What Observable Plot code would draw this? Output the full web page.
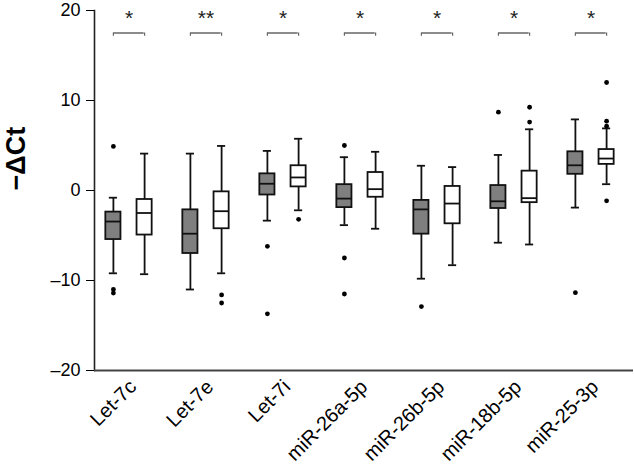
<!DOCTYPE html>
<html><head><meta charset="utf-8">
<script src="https://cdn.jsdelivr.net/npm/d3@7"></script>
<script src="https://cdn.jsdelivr.net/npm/@observablehq/plot@0.6"></script>
<style>body{margin:0;background:#fff;}</style>
</head><body><div id="chart"></div>
<script>
const categories = ["Let-7c", "Let-7e", "Let-7i", "miR-26a-5p", "miR-26b-5p", "miR-18b-5p", "miR-25-3p"];
const significance = ["*", "**", "*", "*", "*", "*", "*"];
const yTicks = [-20, -10, 0, 10, 20];

// gray (filled) group
const grayLow    = [-9.2, -11.0, -3.35, -3.85, -9.8, -5.8, -1.9];
const grayQ1     = [-5.45, -7.0, -0.5, -1.9, -4.85, -2.0, 1.8];
const grayMedian = [-3.45, -4.8, 0.75, -0.9, -2.1, -1.2, 2.8];
const grayQ3     = [-2.4, -2.15, 1.85, 0.65, -1.1, 0.55, 4.3];
const grayHigh   = [-0.8, 4.1, 4.4, 3.7, 2.75, 3.95, 7.9];
const grayOutliers = [
  ["Let-7c", 4.9], ["Let-7c", -11.0], ["Let-7c", -11.4],
  ["Let-7i", -6.2], ["Let-7i", -13.7],
  ["miR-26a-5p", 5.0], ["miR-26a-5p", -7.5], ["miR-26a-5p", -11.5],
  ["miR-26b-5p", -12.9],
  ["miR-18b-5p", 8.7],
  ["miR-25-3p", -11.35]
];

// white (open) group
const whiteLow    = [-9.3, -9.2, -2.2, -4.25, -8.3, -6.0, 0.7];
const whiteQ1     = [-4.95, -4.25, 0.4, -0.75, -3.7, -1.35, 2.9];
const whiteMedian = [-2.5, -2.3, 1.45, 0.15, -1.45, -0.85, 3.55];
const whiteQ3     = [-1.0, -0.15, 2.75, 2.0, 0.45, 2.15, 4.55];
const whiteHigh   = [4.1, 4.95, 5.75, 4.3, 2.6, 6.8, 6.9];
const whiteOutliers = [
  ["Let-7e", -11.6], ["Let-7e", -12.5],
  ["Let-7i", -3.2],
  ["miR-18b-5p", 7.6], ["miR-18b-5p", 9.25],
  ["miR-25-3p", -1.15], ["miR-25-3p", 7.15], ["miR-25-3p", 7.7], ["miR-25-3p", 12.0]
];

const bracketY = 17.5;
const bracketDrop = 17.15;

const groups = [
  {name: "gray", fill: "#7f7f7f", dx: -15.6, low: grayLow, q1: grayQ1, med: grayMedian, q3: grayQ3, high: grayHigh, out: grayOutliers},
  {name: "white", fill: "#ffffff", dx: 15.6, low: whiteLow, q1: whiteQ1, med: whiteMedian, q3: whiteQ3, high: whiteHigh, out: whiteOutliers}
];

const bw = (631.7 - 86.6) / categories.length;
const boxInset = (bw - 16) / 2;
const capInset = (bw - 9) / 2;
const bracketInset = bw / 2 - 15.6;

const marks = [];
for (const g of groups) {
  const rows = categories.map((c, i) => ({category: c, low: g.low[i], q1: g.q1[i], med: g.med[i], q3: g.q3[i], high: g.high[i]}));
  const outs = g.out.map(([c, v]) => ({category: c, value: v}));
  marks.push(
    Plot.ruleX(rows, {x: "category", y1: "low", y2: "high", dx: g.dx, stroke: "#111", strokeWidth: 1.8}),
    Plot.tickY(rows, {x: "category", y: "low", dx: g.dx, insetLeft: capInset, insetRight: capInset, stroke: "#111", strokeWidth: 1.8}),
    Plot.tickY(rows, {x: "category", y: "high", dx: g.dx, insetLeft: capInset, insetRight: capInset, stroke: "#111", strokeWidth: 1.8}),
    Plot.barY(rows, {x: "category", y1: "q1", y2: "q3", dx: g.dx, insetLeft: boxInset, insetRight: boxInset, fill: g.fill, stroke: "#111", strokeWidth: 1.8}),
    Plot.tickY(rows, {x: "category", y: "med", dx: g.dx, insetLeft: boxInset, insetRight: boxInset, stroke: "#111", strokeWidth: 1.8}),
    Plot.dot(outs, {x: "category", y: "value", dx: g.dx, r: 2.4, fill: "#000", stroke: "none"})
  );
}

const sig = categories.map((c, i) => ({category: c, label: significance[i], y: bracketY, y2: bracketDrop}));

const chart = Plot.plot({
  width: 634,
  height: 470,
  marginLeft: 94,
  marginRight: 1,
  marginTop: 10,
  marginBottom: 100,
  style: {fontFamily: "'Liberation Sans', Arial, sans-serif", fontSize: "17px", color: "#000", background: "#fff"},
  x: {domain: categories, range: [86.6, 631.7], padding: 0},
  y: {domain: [-20, 20]},
  marks: [
    Plot.frame({anchor: "left", stroke: "#222", strokeWidth: 1.6}),
    Plot.ruleY([-20], {stroke: "#444", strokeWidth: 2.2}),
    Plot.axisY({ticks: yTicks, tickSize: 8, tickPadding: 6, label: null, fontSize: 18, tickFormat: d => d < 0 ? "\u2013" + Math.abs(d) : String(d)}),
    Plot.axisX({tickRotate: -45, tickSize: 0, tickPadding: 13, dx: 4, label: null, fontSize: 20}),
    Plot.text(["\u2212\u0394Ct"], {text: d => d, frameAnchor: "left", rotate: -90, dx: -78, fontSize: 27, fontWeight: "bold"}),
    ...marks,
    Plot.tickY(sig, {x: "category", y: "y", insetLeft: bracketInset, insetRight: bracketInset, stroke: "#666", strokeWidth: 1.5}),
    Plot.ruleX(sig, {x: "category", y1: "y", y2: "y2", dx: -15.6, stroke: "#666", strokeWidth: 1.2}),
    Plot.ruleX(sig, {x: "category", y1: "y", y2: "y2", dx: 15.6, stroke: "#666", strokeWidth: 1.2}),
    Plot.text(sig, {x: "category", y: "y", text: "label", dy: -15, fontSize: 21, fill: "#222"})
  ]
});
document.getElementById("chart").appendChild(chart);
</script>
</body></html>
